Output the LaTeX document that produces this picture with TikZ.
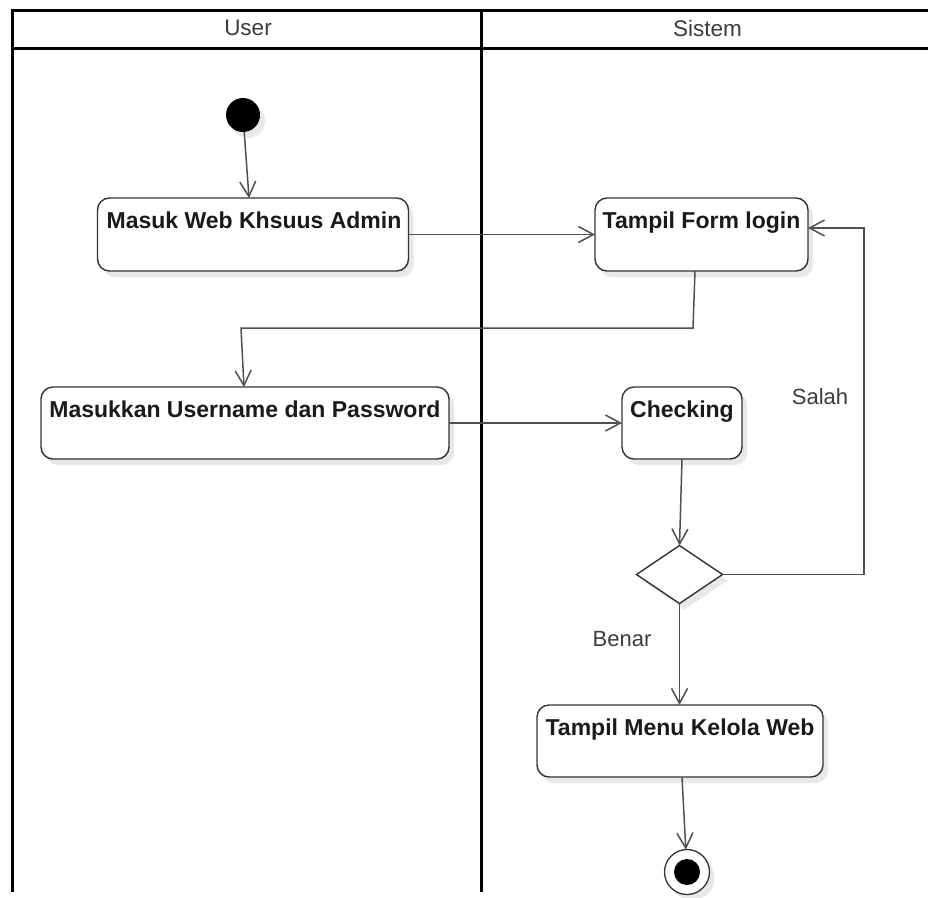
\documentclass[tikz,border=0pt]{standalone}
\usepackage{fontspec}
\setmainfont{Liberation Sans}
\usetikzlibrary{arrows.meta,shapes.geometric,shadows,calc}
\definecolor{lc}{HTML}{505050}
\definecolor{bc}{HTML}{333333}
\definecolor{tc}{HTML}{1A1A1A}
\begin{document}
\begin{tikzpicture}[x=1pt,y=-1pt,
  every node/.style={inner sep=0pt, outer sep=0pt},
  shade/.style={drop shadow={shadow xshift=5pt,shadow yshift=-6pt,fill=black!9,opacity=1}},
  actbox/.style={draw=bc, line width=1.4pt, rounded corners=12pt, fill=white, shade},
  acttext/.style={font=\fontsize{23}{27}\selectfont\bfseries, text=tc, anchor=base},
  lanetext/.style={font=\fontsize{22.5}{27}\selectfont, text=tc!85},
  guardtext/.style={font=\fontsize{22}{27}\selectfont, text=tc!85},
  lane/.style={line width=3pt, black},
  flow/.style={draw=lc, line width=1.5pt, -{Straight Barb[length=15pt,width=16pt]}},
  decision/.style={diamond, draw=bc, line width=1.4pt, fill=white, minimum width=86pt, minimum height=58pt, shade},
  startnode/.style={circle, fill=black, minimum size=34pt, shade},
  endnode/.style={circle, draw=bc, line width=1.3pt, fill=white, minimum size=45pt, shade,
    path picture={\fill[black] (path picture bounding box.center) circle (13pt);}}
]
\useasboundingbox (0,0) rectangle (928,897);
\fill[white] (0,0) rectangle (928,897);

% swimlanes
\draw[lane] (12.5,10) -- (928,10);
\draw[lane] (12.5,48.5) -- (928,48.5);
\draw[lane] (12.5,8.5) -- (12.5,892);
\draw[line width=2.5pt] (481.5,10) -- (481.5,892);
\node[lanetext] (laneU) at (248,28) {User};
\node[lanetext] (laneS) at (707.5,28) {Sistem};

% nodes
\node[startnode] (start) at (243,115) {};
\node[actbox, minimum width=311pt, minimum height=73pt] (b1) at (253,234.5) {};
\node[acttext] (t1) at ($(b1.north)+(1,30.5)$) {Masuk Web Khsuus Admin};
\node[actbox, minimum width=213pt, minimum height=73pt] (b2) at (701.5,234.5) {};
\node[acttext] (t2) at ($(b2.north)+(0,30.5)$) {Tampil Form login};
\node[actbox, minimum width=408pt, minimum height=72pt] (b3) at (245,423) {};
\node[acttext] (t3) at ($(b3.north)+(0,30.5)$) {Masukkan Username dan Password};
\node[actbox, minimum width=120pt, minimum height=72pt] (b4) at (682,423) {};
\node[acttext] (t4) at ($(b4.north)+(0,30.5)$) {Checking};
\node[decision] (dia) at (679.5,574.5) {};
\node[actbox, minimum width=286pt, minimum height=72pt] (b5) at (680,741) {};
\node[acttext] (t5) at ($(b5.north)+(0,30.5)$) {Tampil Menu Kelola Web};
\node[endnode] (fin) at (687,872) {};

\node[guardtext] (salah) at (820,397) {Salah};
\node[guardtext] (benar) at (622,639) {Benar};

% connectors
\coordinate (k1) at (693,328);
\coordinate (k2) at (241,328);
\coordinate (c1) at (864,574.5);
\coordinate (c2) at (864,228);

\draw[flow] (start) -- ([xshift=-4pt]b1.north);
\draw[flow] (b1.east) -- (b2.west);
\draw[flow] ([xshift=-6.5pt]b2.south) -- (k1) -- (k2) -- ([xshift=-1pt]b3.north);
\draw[flow] (b3.east) -- (b4.west);
\draw[flow] (b4.south) -- (dia.north);
\draw[flow] (dia.east) -- (c1) -- (c2) -- (c2 -| b2.east);
\draw[flow] (dia.south) -- (dia.south |- b5.north);
\draw[flow] ([xshift=2pt]b5.south) -- (fin);
\end{tikzpicture}
\end{document}
